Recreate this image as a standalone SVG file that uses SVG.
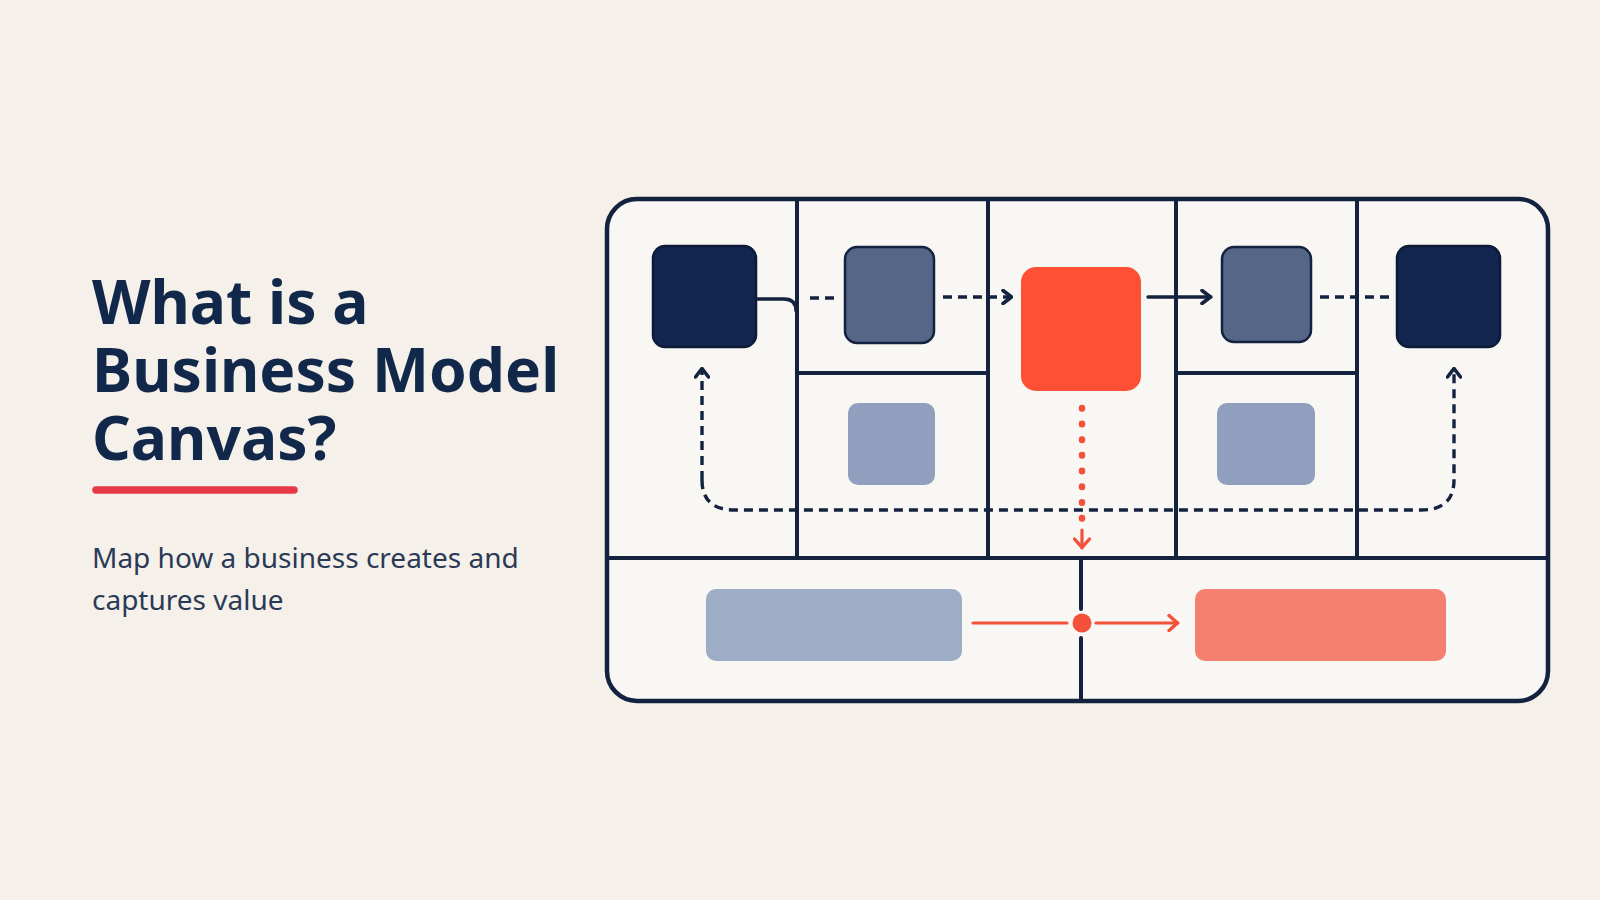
<svg xmlns="http://www.w3.org/2000/svg" width="1600" height="900" viewBox="0 0 1600 900">
<defs>
<style>
.title{font-family:"Noto Sans","Liberation Sans",sans-serif;font-weight:700;font-size:60.5px;fill:#12284a}
.sub{font-family:"Noto Sans","Liberation Sans",sans-serif;font-size:28px;fill:#2b3a55}
.grid{stroke:#13223f;stroke-width:4;fill:none;stroke-linecap:round}
.navy{fill:#13264f;stroke:#0d1b38;stroke-width:2.5}
.slate{fill:#566687;stroke:#13223f;stroke-width:2.5}
.light{fill:#8f9fbd}
.conn{stroke:#13223f;stroke-width:3.4;fill:none;stroke-linecap:round;stroke-linejoin:round}
.dash{stroke-dasharray:9 6;stroke-linecap:butt}
.red{stroke:#f4503a;stroke-width:3.2;fill:none;stroke-linecap:round;stroke-linejoin:round}
</style>
<marker id="ah" viewBox="0 0 12 16" refX="11" refY="8" markerWidth="12" markerHeight="16" markerUnits="userSpaceOnUse" orient="auto">
<path d="M2,1.5 L10.5,8 L2,14.5" fill="none" stroke="#13223f" stroke-width="3.6" stroke-linecap="round" stroke-linejoin="round"/>
</marker>
<marker id="ahr" viewBox="0 0 12 18" refX="11" refY="9" markerWidth="12" markerHeight="18" markerUnits="userSpaceOnUse" orient="auto">
<path d="M2,1.5 L10.5,9 L2,16.5" fill="none" stroke="#f4503a" stroke-width="3.4" stroke-linecap="round" stroke-linejoin="round"/>
</marker>
</defs>
<rect width="1600" height="900" fill="#f5f1ea"/>

<g id="title">
<text class="title" x="92" y="324">What is a</text>
<text class="title" x="92" y="392">Business Model</text>
<text class="title" x="92" y="460">Canvas?</text>
<line x1="96" y1="490" x2="294" y2="490" stroke="#e63946" stroke-width="7.5" stroke-linecap="round"/>
</g>
<g id="subtitle">
<text class="sub" x="92" y="568">Map how a business creates and</text>
<text class="sub" x="92" y="610">captures value</text>
</g>

<g id="canvas">
<rect x="607" y="199" width="941" height="502" rx="30" fill="#f8f7f4" stroke="#13223f" stroke-width="4.5"/>
<line class="grid" x1="797" y1="201" x2="797" y2="556"/>
<line class="grid" x1="988" y1="201" x2="988" y2="556"/>
<line class="grid" x1="1176" y1="201" x2="1176" y2="556"/>
<line class="grid" x1="1357" y1="201" x2="1357" y2="556"/>
<line class="grid" x1="609" y1="558" x2="1546" y2="558"/>
<line class="grid" x1="797" y1="373" x2="988" y2="373"/>
<line class="grid" x1="1176" y1="373" x2="1357" y2="373"/>
<line class="grid" x1="1081" y1="560" x2="1081" y2="609"/>
<line class="grid" x1="1081" y1="638" x2="1081" y2="699"/>
</g>

<g id="connectors">
<path class="conn" d="M757,299 H784 Q796,299 796,311"/>
<line class="conn dash" x1="810" y1="298" x2="838" y2="298"/>
<line class="conn dash" x1="943" y1="297" x2="1012" y2="297" marker-end="url(#ah)"/>
<line class="conn" x1="1148" y1="297" x2="1211" y2="297" marker-end="url(#ah)"/>
<line class="conn dash" x1="1320" y1="297" x2="1390" y2="297"/>
<path class="conn dash" d="M702,480 Q702,510 735,510 H1421 Q1454,510 1454,480 V368" marker-end="url(#ah)"/>
<path class="conn dash" d="M702,480 V368" marker-end="url(#ah)"/>
<line x1="1082" y1="408" x2="1082" y2="520" stroke="#f4503a" stroke-width="6.5" stroke-linecap="round" stroke-dasharray="0.5 15.2"/>
<line class="red" x1="1082" y1="530" x2="1082" y2="548" marker-end="url(#ahr)"/>
<line class="red" x1="973" y1="623" x2="1067" y2="623"/>
<line class="red" x1="1096" y1="623" x2="1178" y2="623" marker-end="url(#ahr)"/>
<circle cx="1082" cy="623" r="9.5" fill="#f4503a"/>
</g>

<g id="node-key-partners"><rect class="navy" x="653" y="246" width="103" height="101" rx="12"/></g>
<g id="node-key-activities"><rect class="slate" x="845" y="247" width="89" height="96" rx="12"/></g>
<g id="node-key-resources"><rect class="light" x="848" y="403" width="87" height="82" rx="10"/></g>
<g id="node-value-prop"><rect x="1021" y="267" width="120" height="124" rx="15" fill="#ff5035"/></g>
<g id="node-relationships"><rect class="slate" x="1222" y="247" width="89" height="95" rx="12"/></g>
<g id="node-channels"><rect class="light" x="1217" y="403" width="98" height="82" rx="10"/></g>
<g id="node-segments"><rect class="navy" x="1397" y="246" width="103" height="101" rx="12"/></g>
<g id="node-costs"><rect x="706" y="589" width="256" height="72" rx="10" fill="#9dadc6"/></g>
<g id="node-revenue"><rect x="1195" y="589" width="251" height="72" rx="10" fill="#f68070"/></g>
</svg>
